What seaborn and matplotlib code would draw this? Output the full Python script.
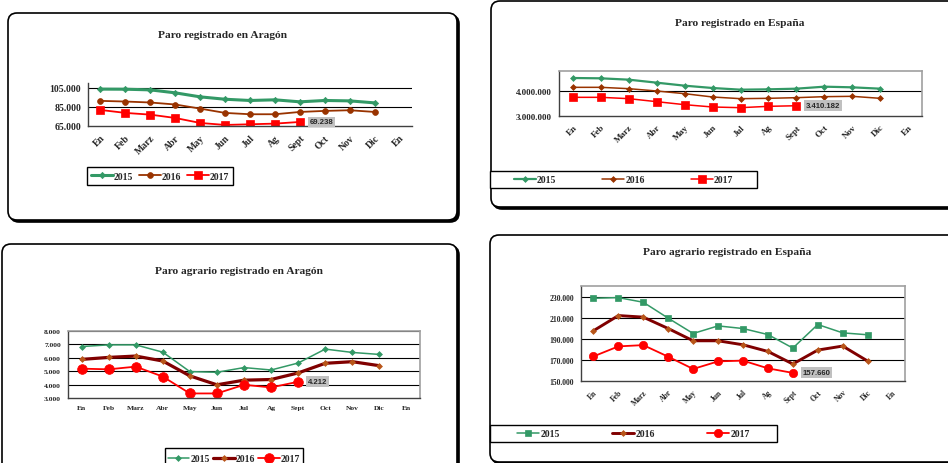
import numpy as np
import pandas as pd
import matplotlib
matplotlib.use("Agg")
import matplotlib.pyplot as plt
import seaborn as sns
from matplotlib.patches import FancyBboxPatch, Rectangle
from matplotlib.transforms import IdentityTransform
from matplotlib.ticker import FuncFormatter, FixedLocator

# categories
months = ["En", "Feb", "Marz", "Abr", "May", "Jun", "Jul", "Ag", "Sept",
          "Oct", "Nov", "Dic", "En"]
years = ["2015", "2016", "2017"]

# Paro registrado en Aragón
aragon_2015 = [103600, 103500, 102800, 99700, 95500, 93000, 91700, 92400, 90300, 91700, 91300, 89200]
aragon_2016 = [91300, 90600, 89600, 87500, 83200, 78700, 77300, 77300, 79700, 80800, 81500, 79700]
aragon_2017 = [81800, 78700, 76900, 73400, 68200, 66100, 66800, 67500, 69238]

# Paro registrado en España
espana_2015 = [4520000, 4507000, 4453000, 4333000, 4213000, 4120000, 4053000, 4067000, 4093000, 4173000, 4147000, 4093000]
espana_2016 = [4147000, 4147000, 4093000, 4000000, 3893000, 3760000, 3693000, 3707000, 3733000, 3773000, 3787000, 3707000]
espana_2017 = [3747000, 3747000, 3693000, 3573000, 3453000, 3360000, 3333000, 3387000, 3410182]

# Paro agrario registrado en Aragón
agr_aragon_2015 = [6840, 6965, 6965, 6420, 4970, 4920, 5270, 5090, 5610, 6650, 6400, 6250]
agr_aragon_2016 = [5880, 6030, 6130, 5760, 4650, 3985, 4330, 4380, 4870, 5590, 5710, 5410]
agr_aragon_2017 = [5190, 5140, 5340, 4600, 3340, 3340, 3985, 3790, 4212]

# Paro agrario registrado en España
agr_espana_2015 = [228400, 229000, 224600, 209500, 195000, 202200, 199700, 194000, 181200, 203500, 195600, 193800]
agr_espana_2016 = [197600, 212000, 210500, 199700, 188100, 188100, 184300, 178000, 166100, 179300, 183100, 168900]
agr_espana_2017 = [173300, 182800, 184000, 173000, 161400, 168600, 169300, 162000, 157660]

W, H = 948, 464
GREEN = "#339966"
BROWN = "#993300"
DARKRED = "#800000"
RED = "#FF0000"
LEG_FS = 7

sns.set_style("white")
plt.rcParams["font.family"] = ["Liberation Serif", "DejaVu Serif"]
plt.rcParams["font.weight"] = "bold"


def fmt_es(v, _pos=None):
    return f"{v:,.0f}".replace(",", ".")


def add_frame(fig, x0, y0, x1, y1):
    shadow = FancyBboxPatch((x0 + 2, H - y1 - 2), x1 - x0, y1 - y0,
                            boxstyle="round,pad=0,rounding_size=9",
                            transform=IdentityTransform(), facecolor="black",
                            edgecolor="black", lw=1.2, zorder=-3)
    box = FancyBboxPatch((x0, H - y1), x1 - x0, y1 - y0,
                         boxstyle="round,pad=0,rounding_size=9",
                         transform=IdentityTransform(), facecolor="white",
                         edgecolor="black", lw=1.2, zorder=-2)
    fig.add_artist(shadow)
    fig.add_artist(box)


def add_axes_px(fig, x0, y0, x1, y1):
    return fig.add_axes([x0 / W, 1 - y1 / H, (x1 - x0) / W, (y1 - y0) / H])


def add_legend(fig, handles, labels, box):
    x0, y0, x1, y1 = box
    fig.add_artist(Rectangle((x0, H - y1), x1 - x0, y1 - y0,
                             transform=IdentityTransform(), facecolor="white",
                             edgecolor="black", lw=1.0, zorder=4))
    # each entry centred in an equal slot, as Excel does
    em = LEG_FS * 100 / 72
    entry_w = 2.25 * em + 0.1 * em + 20
    slot = (x1 - x0) / 3
    spacing = max(slot - entry_w, 1) / em
    leg = fig.legend(handles, labels, loc="center", ncol=3, frameon=False,
                     bbox_to_anchor=((x0 + x1) / 2 / W, 1 - (y0 + y1) / 2 / H),
                     borderaxespad=0, fontsize=LEG_FS, handlelength=2.25,
                     handletextpad=0.1, borderpad=0, columnspacing=spacing)
    leg.set_zorder(5)


def panel(fig, frame, area, title, title_xy, series, ylim, yticks, ytick_size,
          xtick_size, rotate, grey_border, label_text, legend_box):
    add_frame(fig, *frame)
    ax = add_axes_px(fig, *area)
    for s in series:
        vals = s["values"]
        sns.lineplot(x=np.arange(len(vals)), y=vals, ax=ax, color=s["color"],
                     linewidth=s["lw"], marker=s["marker"], markersize=s["ms"],
                     markerfacecolor=s.get("mfc", s["color"]),
                     markeredgecolor=s.get("mfc", s["color"]),
                     markeredgewidth=0.5, label=s["label"], legend=True)
    last = series[2]["values"]
    ax.annotate(label_text, (len(last) - 1, last[-1]), xytext=(7, 0),
                textcoords="offset points", va="center", ha="left",
                fontsize=5.6, family=["Liberation Sans", "DejaVu Sans"],
                fontweight="bold",
                bbox=dict(boxstyle="square,pad=0.25", fc="#C0C0C0", ec="none"))
    ax.set_xlim(-0.5, len(months) - 0.5)
    ax.set_ylim(*ylim)
    ax.yaxis.set_major_locator(FixedLocator(yticks))
    ax.yaxis.set_major_formatter(FuncFormatter(fmt_es))
    ax.set_xticks(np.arange(len(months)))
    if rotate:
        ax.set_xticklabels(months, rotation=45, ha="right",
                           rotation_mode="anchor", fontsize=xtick_size)
    else:
        ax.set_xticklabels(months, fontsize=xtick_size)
    ax.xaxis.set_minor_locator(FixedLocator(np.arange(-0.5, len(months), 1.0)))
    ax.tick_params(axis="x", which="major", length=0, pad=5)
    ax.tick_params(axis="x", which="minor", length=3, direction="out",
                   color="#404040", width=0.8)
    ax.tick_params(axis="y", length=3, direction="out", labelsize=ytick_size,
                   color="#404040", width=0.8, pad=2)
    for y in yticks:
        if y > ylim[0]:
            ax.axhline(y, color="black", lw=0.8, zorder=0.5)
    ax.spines["left"].set_color("#404040")
    ax.spines["bottom"].set_color("#404040")
    ax.spines["left"].set_linewidth(1.0)
    ax.spines["bottom"].set_linewidth(1.0)
    if grey_border:
        for side in ("top", "right"):
            ax.spines[side].set_color("#A0A0A0")
            ax.spines[side].set_linewidth(1.2)
    else:
        ax.spines["top"].set_visible(False)
        ax.spines["right"].set_visible(False)
    ax.set_xlabel("")
    ax.set_ylabel("")
    handles, labels = ax.get_legend_handles_labels()
    ax.get_legend().remove()
    fig.text(title_xy[0] / W, 1 - title_xy[1] / H, title, ha="center",
             va="center", fontsize=8.2, fontweight="bold")
    add_legend(fig, handles, labels, legend_box)
    return ax


def main():
    fig = plt.figure(figsize=(W / 100, H / 100), dpi=100)

    panel(fig, (8, 14, 457, 221), (88, 84, 412, 127),
          "Paro registrado en Aragón", (223, 35),
          [dict(values=aragon_2015, color=GREEN, lw=2.2, marker="D", ms=3.2, label=years[0]),
           dict(values=aragon_2016, color=BROWN, lw=1.3, marker="o", ms=4.2, label=years[1]),
           dict(values=aragon_2017, color=RED, lw=1.3, marker="s", ms=6.2, label=years[2])],
          (65000, 110000), [65000, 85000, 105000], 7, 7, True, False,
          fmt_es(aragon_2017[-1]), (87, 168, 233, 186))

    panel(fig, (491, 2, 962, 208), (559, 72, 922, 117),
          "Paro registrado en España", (740, 23),
          [dict(values=espana_2015, color=GREEN, lw=1.6, marker="D", ms=3.0, label=years[0]),
           dict(values=espana_2016, color=BROWN, lw=1.1, marker="D", ms=3.0, label=years[1]),
           dict(values=espana_2017, color=RED, lw=1.1, marker="s", ms=6.2, label=years[2])],
          (3000000, 4800000), [3000000, 4000000], 6.5, 6.5, True, True,
          fmt_es(espana_2017[-1]), (490, 172, 757, 189))

    panel(fig, (2, 245, 457, 490), (68, 332, 420, 399),
          "Paro agrario registrado en Aragón", (239, 272),
          [dict(values=agr_aragon_2015, color=GREEN, lw=1.1, marker="D", ms=3.0, label=years[0]),
           dict(values=agr_aragon_2016, color=DARKRED, lw=2.3, marker="D", ms=3.0,
                mfc="#B8561A", label=years[1]),
           dict(values=agr_aragon_2017, color=RED, lw=1.3, marker="o", ms=7.0, label=years[2])],
          (3000, 8000), [3000, 4000, 5000, 6000, 7000, 8000], 5.4, 5.4, False, True,
          fmt_es(agr_aragon_2017[-1]), (165, 449, 303, 470))

    panel(fig, (490, 236, 962, 463), (581, 287, 905, 382),
          "Paro agrario registrado en España", (727, 253),
          [dict(values=agr_espana_2015, color=GREEN, lw=1.1, marker="s", ms=4.0, label=years[0]),
           dict(values=agr_espana_2016, color=DARKRED, lw=2.1, marker="D", ms=3.0,
                mfc="#B8561A", label=years[1]),
           dict(values=agr_espana_2017, color=RED, lw=1.3, marker="o", ms=6.0, label=years[2])],
          (150000, 240000), [150000, 170000, 190000, 210000, 230000], 5.5, 5.5, True, True,
          fmt_es(agr_espana_2017[-1]), (490, 426, 777, 443))

    fig.savefig("out.png", dpi=100, facecolor="white")


if __name__ == "__main__":
    main()
